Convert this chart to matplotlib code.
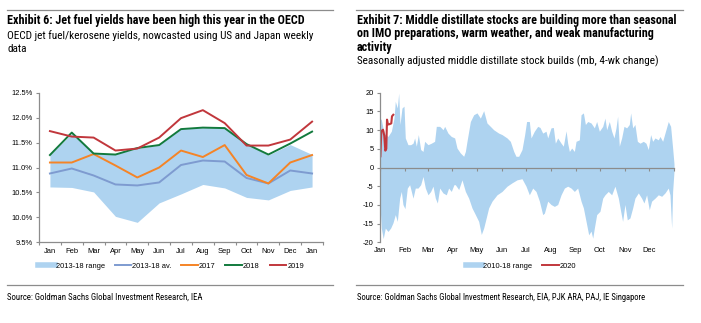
import matplotlib
matplotlib.use("Agg")
import matplotlib.pyplot as plt
from matplotlib.lines import Line2D
from matplotlib.ticker import FuncFormatter
from matplotlib import font_manager

plt.rcParams['axes.unicode_minus'] = False

# ---------------- Data: Exhibit 6 ----------------
months6 = ["Jan", "Feb", "Mar", "Apr", "May", "Jun", "Jul", "Aug", "Sep", "Oct", "Nov", "Dec", "Jan"]
range_low = [10.61, 10.60, 10.51, 10.02, 9.90, 10.29, 10.47, 10.66, 10.59, 10.40, 10.35, 10.54, 10.61]
range_high = [11.25, 11.68, 11.28, 11.27, 11.38, 11.45, 11.77, 11.80, 11.80, 11.46, 11.25, 11.46, 11.26]
avg_13_18 = [10.88, 10.98, 10.84, 10.66, 10.64, 10.70, 11.05, 11.14, 11.12, 10.79, 10.68, 10.94, 10.88]
y2017 = [11.10, 11.10, 11.27, 11.04, 10.80, 11.00, 11.34, 11.21, 11.45, 10.85, 10.68, 11.10, 11.25]
y2018 = [11.25, 11.70, 11.28, 11.26, 11.39, 11.45, 11.77, 11.80, 11.79, 11.47, 11.26, 11.48, 11.72]
y2019 = [11.73, 11.62, 11.60, 11.34, 11.38, 11.60, 11.99, 12.15, 11.89, 11.44, 11.44, 11.56, 11.92]

# ---------------- Data: Exhibit 7 ----------------
month_names7 = ["Jan", "Feb", "Mar", "Apr", "May", "Jun", "Jul", "Aug", "Sep", "Oct", "Nov", "Dec"]
month_start_days = [0, 31, 59, 90, 120, 151, 181, 212, 243, 273, 304, 334]

upper_days = [0, 1.6, 3.7, 6.6, 9.9, 14.1, 17.4, 19.0, 21.5, 23.2, 24.8, 27.3, 29.8, 31.4, 34.7,
              38.1, 41.0, 43.0, 45.1, 47.6, 50.5, 53.4, 55.4, 59.6, 63.7, 67.8, 69.9, 74.1, 76.1,
              78.2, 80.3, 84.4, 88.5, 92.7, 95.6, 99.7, 103.9, 106, 108, 112.2, 116.3, 120.4,
              124.6, 128.7, 132.8, 137, 141.1, 147.3, 151.5, 157.7, 161.8, 166, 168.8, 172.2,
              176.3, 179.6, 182, 185.4, 187.5, 191.6, 195.8, 198.7, 202, 206.1, 208.2, 212.3,
              215.2, 217.7, 220.6, 224.8, 227.6, 231, 233, 235.1, 238, 241.3, 243.4, 247.5,
              249.6, 252.5, 255, 257.9, 262, 266.1, 269, 272.3, 276.5, 279.3, 281.4, 284.7,
              287.6, 290.5, 293, 295, 297.1, 300, 302.9, 306.2, 309.5, 311.2, 313.7, 316.5,
              319.5, 322.8, 326.9, 330.2, 333.1, 336, 338.5, 341.4, 345.5, 347.6, 350.9, 353.8,
              357.9, 360.8, 363.3, 365]
upper_vals = [13.2, 12.8, 10.6, 8.8, 8.3, 9.7, 13.2, 17.7, 15.9, 19.9, 11.5, 15.9, 16.4, 7.9, 6.1,
              6.1, 6.5, 7.9, 5.7, 8.8, 4.8, 4.3, 7.0, 6.1, 6.5, 7.0, 11.0, 11.0, 10.6,
              10.1, 11.0, 9.2, 8.3, 7.9, 5.2, 3.9, 3.0, 4.3, 7.0, 12.3, 14.1, 14.6,
              13.2, 15.2, 11.9, 11.0, 10.1, 9.2, 8.8, 7.9, 7.0, 4.3, 3.0, 3.0,
              4.8, 8.8, 12.3, 12.3, 7.9, 9.7, 11.0, 10.7, 9.2, 9.7, 7.9, 10.6,
              10.7, 6.5, 7.9, 6.5, 5.7, 9.8, 6.5, 4.3, 5.2, 4.3, 7.0, 7.4,
              14.1, 14.6, 11.5, 12.3, 11.9, 10.6, 12.3, 9.7, 11.0, 13.2, 10.1, 12.3,
              9.7, 7.9, 10.6, 13.7, 5.7, 7.9, 11.0, 10.6, 11.5, 14.6, 10.6, 11.5,
              7.0, 6.5, 7.0, 6.5, 4.8, 8.8, 7.0, 7.9, 7.4, 8.3, 7.0, 9.2,
              12.3, 11.0, 5.2, 1.0]

lower_days = [0, 1.6, 4.0, 6.6, 9.9, 13.2, 16.1, 19.0, 21.5, 24.4, 26.5, 28.5, 31.0, 33.9, 36.8,
              38.9, 41.0, 43.8, 47.2, 50.5, 53.4, 56.3, 59.6, 62.9, 65.8, 68.7, 71.2, 74.1,
              78.2, 82.3, 85.2, 88.5, 91.8, 93.5, 97.7, 101.8, 106, 110.1, 114.2, 118.4,
              122.5, 125.8, 128.7, 130.8, 134.9, 139.1, 145.3, 151.5, 157.7, 163.9, 170.1,
              176.3, 181.3, 185.4, 189.6, 193.7, 197.9, 202, 204.1, 208.2, 212.3, 216.5,
              220.6, 224.8, 228.9, 233, 237.2, 241.3, 245.4, 249.6, 252.5, 255.8, 259.1,
              262, 264.1, 266.1, 269, 273.1, 276.5, 279.3, 283.4, 287.6, 291.7, 295.9,
              298.8, 301.2, 304.1, 307, 310.3, 313.7, 316.5, 320.7, 324.8, 327.7, 331,
              334.3, 337.2, 341.4, 345.5, 349.7, 353.8, 357.9, 360, 362.1, 363.3, 365]
lower_vals = [-10.0, -16.2, -19.0, -16.2, -17.1, -16.2, -14.8, -12.6, -14.4, -8.2, -6.4, -9.9, -11.0, -5.5, -4.6,
              -6.4, -8.2, -5.5, -5.5, -4.6, -2.4, -5.5, -7.3, -6.4, -5.0, -8.2, -9.5, -5.5,
              -6.8, -7.3, -5.5, -6.4, -4.6, -4.6, -5.9, -3.3, -6.4, -8.2, -10.8, -12.6,
              -14.4, -17.9, -16.2, -14.4, -10.8, -9.0, -7.3, -6.4, -5.0, -4.1, -3.3,
              -3.0, -5.0, -7.3, -5.5, -6.4, -9.0, -12.6, -12.2, -9.0, -9.9, -10.4,
              -9.9, -7.3, -5.5, -5.0, -5.5, -6.4, -5.5, -9.0, -10.8, -14.4, -18.0,
              -17.0, -18.9, -16.2, -12.6, -11.7, -8.2, -7.3, -6.4, -7.3, -5.0, -8.2,
              -11.7, -14.4, -9.9, -14.0, -13.5, -10.8, -8.2, -6.8, -8.2, -9.5, -7.3,
              -11.3, -9.0, -8.2, -7.3, -7.7, -6.8, -5.5, -7.3, -16.2, -6.4, -1.0]

days_2020 = [0.5, 1.6, 3.7, 5.3, 6.6, 7.8, 8.7, 9.9, 12.0, 14.0, 14.9, 16.5]
vals_2020 = [3.0, 9.7, 10.1, 8.5, 4.5, 5.0, 12.8, 11.5, 11.6, 11.8, 13.7, 14.1]

# ---------------- Styling ----------------
available = {f.name for f in font_manager.fontManager.ttflist}
if 'Roboto Condensed' in available:
    NARROW = ['Roboto Condensed', 'DejaVu Sans']
    SCALE = 1.0
elif 'Liberation Sans Narrow' in available:
    NARROW = ['Liberation Sans Narrow', 'DejaVu Sans']
    SCALE = 1.0
else:
    NARROW = ['Liberation Sans', 'DejaVu Sans']
    SCALE = 0.9
REG = ['Liberation Sans', 'DejaVu Sans']
GRAY = '#8c8c8c'
BAND = '#aed3f0'
C_AVG = '#7e9bd0'
C17 = '#f58426'
C18 = '#127a3d'
C19 = '#c1373c'

W, H = 701, 323
fig = plt.figure(figsize=(W / 100, H / 100), dpi=100)


def fx(px):
    return px / W


def fy(py):
    return 1 - py / H


def ftext(x, y, s, bold=False, size=8.0, family=None):
    fig.text(fx(x), fy(y), s, ha='left', va='center', fontsize=size * SCALE,
             fontweight='bold' if bold else 'normal', family=family or NARROW, color='black')


# separator lines
for (x0, x1) in [(7, 333), (356, 683)]:
    fig.add_artist(Line2D([fx(x0), fx(x1)], [fy(10), fy(10)], color=GRAY, lw=0.9))
    fig.add_artist(Line2D([fx(x0), fx(x1)], [fy(285), fy(285)], color=GRAY, lw=0.9))

# titles
TITLE_FS = 8.7
SUB_FS = 8.1
ftext(7, 20.5, "Exhibit 6: Jet fuel yields have been high this year in the OECD", bold=True, size=TITLE_FS)
ftext(7, 35.5, "OECD jet fuel/kerosene yields, nowcasted using US and Japan weekly", size=SUB_FS)
ftext(7, 49, "data", size=SUB_FS)
ftext(357, 20.5, "Exhibit 7: Middle distillate stocks are building more than seasonal", bold=True, size=TITLE_FS)
ftext(357, 33.8, "on IMO preparations, warm weather, and weak manufacturing", bold=True, size=TITLE_FS)
ftext(357, 47, "activity", bold=True, size=TITLE_FS)
ftext(357, 61, "Seasonally adjusted middle distillate stock builds (mb, 4-wk change)", size=SUB_FS)
ftext(7, 297.5, "Source: Goldman Sachs Global Investment Research, IEA", size=6.3)
ftext(357, 297.5, "Source: Goldman Sachs Global Investment Research, EIA, PJK ARA, PAJ, IE Singapore", size=6.2)

TICK_FS = 5.4

# ---------------- Exhibit 6 axes ----------------
ax1 = fig.add_axes([fx(39), fy(242.3), fx(323) - fx(39), (242.3 - 92.7) / H])
x6 = list(range(len(months6)))
ax1.fill_between(x6, range_low, range_high, color=BAND, lw=0, label="2013-18 range")
ax1.plot(x6, avg_13_18, color=C_AVG, lw=1.4, label="2013-18 av.")
ax1.plot(x6, y2017, color=C17, lw=1.4, label="2017")
ax1.plot(x6, y2018, color=C18, lw=1.4, label="2018")
ax1.plot(x6, y2019, color=C19, lw=1.4, label="2019")
ax1.set_xlim(-0.5, len(months6) - 0.5)
ax1.set_ylim(9.5, 12.5)
ax1.set_yticks([9.5 + 0.5 * i for i in range(7)])
ax1.yaxis.set_major_formatter(FuncFormatter(lambda v, p: f"{v:.1f}%"))
ax1.set_xticks(x6)
ax1.set_xticklabels(months6)
ax1.set_xticks([i - 0.5 for i in range(len(months6) + 1)], minor=True)
ax1.tick_params(axis='x', which='major', length=0, pad=4, labelsize=TICK_FS)
ax1.tick_params(axis='x', which='minor', length=2.5, color=GRAY, width=0.8)
ax1.tick_params(axis='y', length=2.5, color=GRAY, width=0.8, pad=2, labelsize=TICK_FS)
for s in ['top', 'right']:
    ax1.spines[s].set_visible(False)
for s in ['left', 'bottom']:
    ax1.spines[s].set_color(GRAY)
    ax1.spines[s].set_linewidth(0.9)
for lab in ax1.get_xticklabels() + ax1.get_yticklabels():
    lab.set_family(REG)

h1 = [Line2D([], [], color=BAND, lw=4),
      Line2D([], [], color=C_AVG, lw=1.4),
      Line2D([], [], color=C17, lw=1.4),
      Line2D([], [], color=C18, lw=1.4),
      Line2D([], [], color=C19, lw=1.4)]
l1 = ["2013-18 range", "2013-18 av.", "2017", "2018", "2019"]
fig.legend(h1, l1, loc='center', bbox_to_anchor=(fx(171), fy(266)), ncol=5, frameon=False,
           prop={'family': REG, 'size': TICK_FS}, handlelength=2.2, handletextpad=0.15,
           columnspacing=1.3, borderpad=0, borderaxespad=0)

# ---------------- Exhibit 7 axes ----------------
ax2 = fig.add_axes([fx(380), fy(242.3), fx(674) - fx(380), (242.3 - 92.7) / H])
ax2.fill_between(upper_days, 0, upper_vals, color=BAND, lw=0)
ax2.fill_between(lower_days, lower_vals, 0, color=BAND, lw=0)
ax2.plot(days_2020, vals_2020, color=C19, lw=1.5)
ax2.set_xlim(0, 365)
ax2.set_ylim(-20, 20)
ax2.set_yticks(list(range(-20, 21, 5)))
ax2.set_xticks(month_start_days + [365])
ax2.set_xticklabels(month_names7 + [""])
ax2.spines['bottom'].set_position(('data', 0))
for s in ['top', 'right']:
    ax2.spines[s].set_visible(False)
for s in ['left', 'bottom']:
    ax2.spines[s].set_color(GRAY)
    ax2.spines[s].set_linewidth(0.9)
ax2.tick_params(axis='x', length=2.2, color=GRAY, width=0.8, pad=55.0, labelsize=TICK_FS)
ax2.tick_params(axis='y', length=2.5, color=GRAY, width=0.8, pad=2, labelsize=TICK_FS)
for lab in ax2.get_xticklabels() + ax2.get_yticklabels():
    lab.set_family(REG)

h2 = [Line2D([], [], color=BAND, lw=4), Line2D([], [], color=C19, lw=1.4)]
l2 = ["2010-18 range", "2020"]
fig.legend(h2, l2, loc='center', bbox_to_anchor=(fx(521), fy(266)), ncol=2, frameon=False,
           prop={'family': REG, 'size': TICK_FS}, handlelength=2.2, handletextpad=0.15,
           columnspacing=1.3, borderpad=0, borderaxespad=0)

fig.savefig("out.png", dpi=100)
